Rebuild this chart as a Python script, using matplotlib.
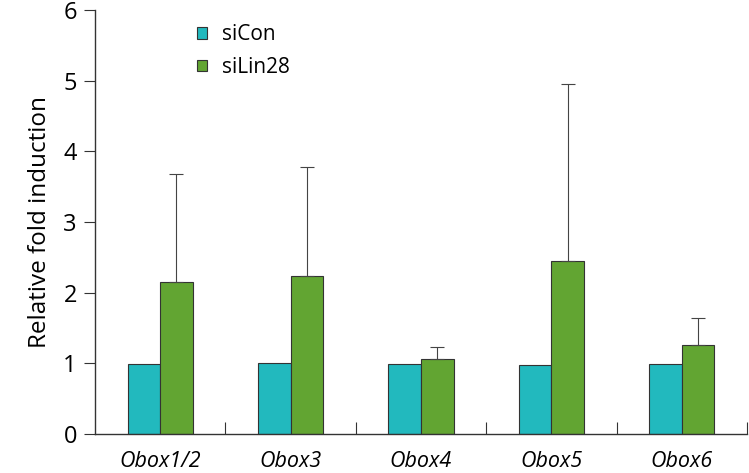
import numpy as np
import matplotlib
import matplotlib.pyplot as plt

matplotlib.use("Agg")

categories = ["Obox1/2", "Obox3", "Obox4", "Obox5", "Obox6"]
sicon = [0.99, 1.0, 0.99, 0.98, 0.99]
silin28 = [2.15, 2.24, 1.065, 2.45, 1.26]
silin28_err = [1.53, 1.54, 0.17, 2.50, 0.38]

plt.rcParams['font.family'] = ['Open Sans', 'DejaVu Sans']

fig = plt.figure(figsize=(7.49, 4.73), dpi=100)
ax = fig.add_axes([0.1268, 0.0825, 0.8705, 0.8964])

x = np.arange(len(categories))
w = 0.25
edge = "#333333"

ax.bar(x - w / 2, sicon, w, color="#22B9BE", edgecolor=edge, linewidth=0.8, label="siCon")
ax.bar(x + w / 2, silin28, w, color="#62A532", edgecolor=edge, linewidth=0.8, label="siLin28",
       yerr=[np.zeros(len(silin28)), silin28_err],
       error_kw=dict(ecolor="#444444", elinewidth=0.8, capsize=5, capthick=0.8))

ax.set_xlim(-0.5, len(categories) - 0.5)
ax.set_ylim(0, 6)
ax.set_yticks(range(7))
ax.set_xticks(x)
ax.set_xticklabels(categories, fontstyle="italic", fontsize=15.5)
ax.set_xticks(np.arange(len(categories)) + 0.5, minor=True)
ax.tick_params(axis="x", which="major", length=0, pad=12)
ax.tick_params(axis="x", which="minor", direction="in", length=9, width=0.8, color=edge)
ax.tick_params(axis="y", direction="out", length=8, width=0.8, color=edge, labelsize=17, pad=5)

for s in ["top", "right"]:
    ax.spines[s].set_visible(False)
for s in ["left", "bottom"]:
    ax.spines[s].set_color(edge)
    ax.spines[s].set_linewidth(1.0)

ax.set_ylabel("Relative fold induction", fontsize=17.5, labelpad=8)

ax.legend(loc="upper left", bbox_to_anchor=(0.127, 1.01), frameon=False, fontsize=15,
          handlelength=0.5, handleheight=0.5, handletextpad=0.7, labelspacing=0.55)

fig.savefig("out.png", dpi=100)
